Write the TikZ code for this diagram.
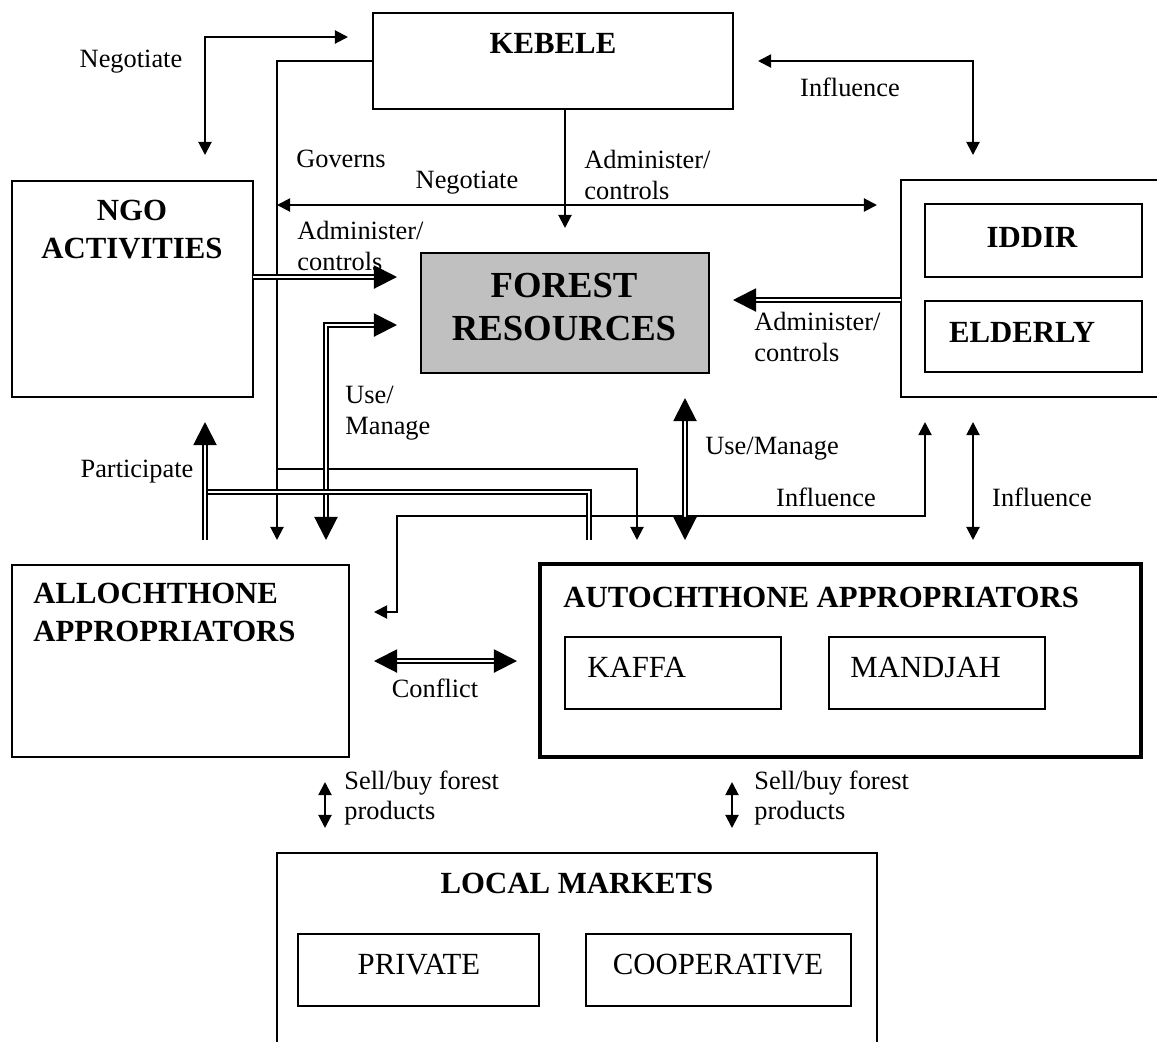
\documentclass[tikz,border=0pt]{standalone}
\usepackage{fontspec}
\setmainfont{Liberation Serif}
\usetikzlibrary{arrows.meta,fit}

\tikzset{
  st/.tip={Triangle[length=6pt,width=6pt]},
  bt/.tip={Triangle[length=10.5pt,width=10.5pt]},
}

\begin{document}
\begin{tikzpicture}[x=0.455pt,y=-0.455pt,
  box/.style={draw, line width=0.9pt, inner sep=0pt},
  heavybox/.style={draw, line width=1.8pt, inner sep=0pt},
  lbl/.style={font=\fontsize{12}{14}\selectfont, inner sep=0pt, align=left},
  ttl/.style={font=\fontsize{14}{17}\selectfont\bfseries, inner sep=0pt, align=center},
  ttlleft/.style={ttl, align=left},
  sub/.style={font=\fontsize{14}{17}\selectfont, inner sep=0pt},
  link/.style={line width=0.9pt},
  dlink/.style={double, line width=0.9pt, double distance=1.25pt},
]
\useasboundingbox (0,0) rectangle (1157,1041);
\clip (0,0) rectangle (1157,1041);

% ---------- boxes ----------
\node[box, fit={(373,13) (733,109)}] (kebele) {};
\node[ttl] (kebeleT) at (553,43) {KEBELE};

\node[box, fit={(12,181) (253,397)}] (ngo) {};
\node[ttl] (ngoT) at (132,229.5) {NGO\\ACTIVITIES};

\node[box, fill={rgb,255:red,192;green,192;blue,192}, fit={(421,253) (709,373)}] (forest) {};
\node[font=\fontsize{16.7}{19.6}\selectfont\bfseries, inner sep=0pt, align=center] (forestT) at (564,307) {FOREST\\RESOURCES};

\node[box, fit={(901,180) (1175,397)}] (elders) {};
\node[box, fit={(925,204) (1142,277)}] (iddir) {};
\node[ttl] (iddirT) at (1032,237) {IDDIR};
\node[box, fit={(925,301) (1142,372)}] (elderly) {};
\node[ttl] (elderlyT) at (1022,332) {ELDERLY};

\node[box, fit={(12,565) (349,757)}] (alloch) {};
\node[ttlleft, anchor=west] (allochT) at (33,612.5) {ALLOCHTHONE\\APPROPRIATORS};

\node[heavybox, fit={(540,564) (1141,757)}] (autoch) {};
\node[ttl, anchor=west] (autochT) at (563,597.5) {AUTOCHTHONE APPROPRIATORS};
\node[box, fit={(565,637) (781,709)}] (kaffa) {};
\node[sub, anchor=west] (kaffaT) at (587,667.5) {KAFFA};
\node[box, fit={(829,637) (1045,709)}] (mandjah) {};
\node[sub, anchor=west] (mandjahT) at (850,667.5) {MANDJAH};

\node[box, fit={(277,853) (877,1070)}] (markets) {};
\node[ttl] (marketsT) at (577,883.5) {LOCAL MARKETS};
\node[box, fit={(298,934) (539,1006)}] (private) {};
\node[sub] (privateT) at (419,964.5) {PRIVATE};
\node[box, fit={(586,934) (851,1006)}] (coop) {};
\node[sub] (coopT) at (718,964.5) {COOPERATIVE};

% ---------- connector end points ----------
\coordinate (negK) at (348,37);
\coordinate (negN) at (205,155);
\coordinate (govA) at (277,540);
\coordinate (govJ) at (277,469);
\coordinate (govB) at (637,540);
\coordinate (negL) at (277,205);
\coordinate (negR) at (877,205);
\coordinate (admKtop) at (565,109);
\coordinate (admKtip) at (565,228);
\coordinate (infK) at (758,61);
\coordinate (infE) at (973,155);
\coordinate (admNfrom) at (253,277);
\coordinate (admNtip) at (397,277);
\coordinate (useF) at (397,325);
\coordinate (useA) at (326,540);
\coordinate (partN) at (205,422);
\coordinate (partA) at (205,540);
\coordinate (partB) at (589,540);
\coordinate (partJ) at (205,492);
\coordinate (useFb) at (685,398);
\coordinate (useB) at (685,540);
\coordinate (infA) at (374,612);
\coordinate (infBend) at (397,516);
\coordinate (infEb) at (925,422);
\coordinate (infR1) at (973,422);
\coordinate (infR2) at (973,540);
\coordinate (admEfrom) at (901,300);
\coordinate (admEtip) at (733,300);
\coordinate (confL) at (374,661);
\coordinate (confR) at (517,661);
\coordinate (sellA1) at (325,782);
\coordinate (sellA2) at (325,828);
\coordinate (sellB1) at (732,782);
\coordinate (sellB2) at (732,828);

% ---------- single-line connectors ----------
\draw[link, {st}-{st}] (negK) -| (negN);
\draw[link, -{st}] (kebele.west) -| (govA);
\draw[link, -{st}] (govJ) -| (govB);
\draw[link, {st}-{st}] (negL) -- (negR);
\draw[link, -{st}] (admKtop) -- (admKtip);
\draw[link, {st}-{st}] (infK) -| (infE);
\draw[link, {st}-{st}] (infA) -| (infBend) -| (infEb);
\draw[link, {st}-{st}] (infR1) -- (infR2);
\draw[link, {st}-{st}] (sellA1) -- (sellA2);
\draw[link, {st}-{st}] (sellB1) -- (sellB2);

% ---------- double-line connectors ----------
\draw[dlink, -{bt}] (admNfrom) -- (admNtip);
\draw[dlink, {bt}-{bt}] (useF) -| (useA);
\draw[dlink] (partB) |- (partJ);
\draw[dlink, -{bt}] (partA) -- (partN);
\draw[dlink, {bt}-{bt}] (useFb) -- (useB);
\draw[dlink, -{bt}] (admEfrom) -- (admEtip);
\draw[dlink, {bt}-{bt}] (confL) -- (confR);

% ---------- labels ----------
\node[lbl] (lNeg1) at (131,62) {Negotiate};
\node[lbl] (lGov) at (341,159) {Governs};
\node[lbl] (lNeg2) at (467,183) {Negotiate};
\node[lbl, anchor=west] (lAdm1) at (584,175) {Administer/\\controls};
\node[lbl, anchor=west] (lAdm2) at (297,246) {Administer/\\controls};
\node[lbl, anchor=west] (lAdm3) at (754,337) {Administer/\\controls};
\node[lbl] (lInf1) at (850,87) {Influence};
\node[lbl, anchor=west] (lUse1) at (345,413.5) {Use/\\Manage};
\node[lbl, anchor=west] (lUse2) at (705,449) {Use/Manage};
\node[lbl] (lPart) at (137,472) {Participate};
\node[lbl] (lInf2) at (826,497) {Influence};
\node[lbl] (lInf3) at (1042,497) {Influence};
\node[lbl] (lConf) at (435,688) {Conflict};
\node[lbl, anchor=west] (lSell1) at (344,798) {Sell/buy forest\\products};
\node[lbl, anchor=west] (lSell2) at (754,798) {Sell/buy forest\\products};
\end{tikzpicture}
\end{document}
